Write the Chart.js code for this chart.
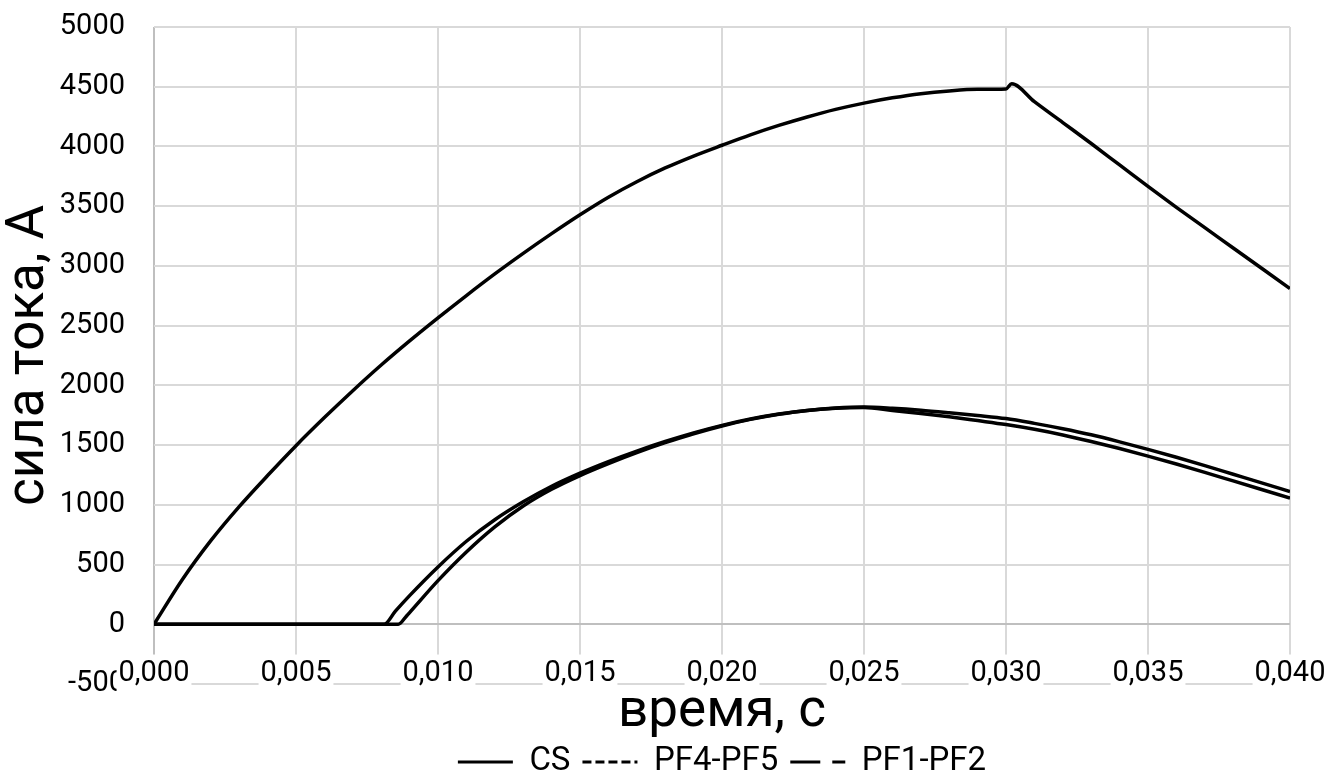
<!DOCTYPE html>
<html>
<head>
<meta charset="utf-8">
<script src="https://cdn.jsdelivr.net/npm/chart.js@4/dist/chart.umd.min.js"></script>
<style>
  body { margin: 0; background: #fff; }
</style>
</head>
<body>
<canvas id="chart" width="1330" height="778"></canvas>
<script>
// время, с / сила тока, А
const csTime = [0, 0.001, 0.002, 0.003, 0.004, 0.005, 0.006, 0.007, 0.008, 0.009, 0.010,
  0.011, 0.012, 0.013, 0.014, 0.015, 0.016, 0.017, 0.018, 0.019, 0.020,
  0.021, 0.022, 0.023, 0.024, 0.025, 0.026, 0.027, 0.028, 0.029, 0.030, 0.0302,
  0.031, 0.032, 0.033, 0.034, 0.035, 0.036, 0.037, 0.038, 0.039, 0.040];
const csCurrent = [0, 375, 700, 985, 1245, 1495, 1730, 1955, 2170, 2372, 2565,
  2752, 2933, 3105, 3270, 3428, 3575, 3705, 3820, 3920, 4010,
  4097, 4176, 4247, 4310, 4363, 4407, 4442, 4465, 4478, 4482, 4525,
  4375, 4200, 4025, 3845, 3665, 3490, 3320, 3150, 2980, 2810];

const pf45Time = [0, 0.0081, 0.0085, 0.009, 0.010, 0.011, 0.012, 0.013, 0.014, 0.015, 0.016, 0.017,
  0.018, 0.019, 0.020, 0.021, 0.022, 0.023, 0.024, 0.025, 0.026, 0.027, 0.028,
  0.029, 0.030, 0.031, 0.032, 0.033, 0.034, 0.035, 0.036, 0.037, 0.038, 0.039, 0.040];
const pf45Current = [0, 0, 110, 240, 480, 695, 875, 1025, 1155, 1265, 1362, 1450,
  1530, 1602, 1665, 1718, 1760, 1790, 1810, 1818, 1808, 1792, 1771,
  1748, 1722, 1682, 1637, 1586, 1527, 1464, 1398, 1328, 1256, 1184, 1111];

const pf12Time = [0, 0.0086, 0.0089, 0.009, 0.010, 0.011, 0.012, 0.013, 0.014, 0.015, 0.016, 0.017,
  0.018, 0.019, 0.020, 0.021, 0.022, 0.023, 0.024, 0.025, 0.026, 0.027, 0.028,
  0.029, 0.030, 0.031, 0.032, 0.033, 0.034, 0.035, 0.036, 0.037, 0.038, 0.039, 0.040];
const pf12Current = [0, 0, 72, 98, 365, 605, 815, 990, 1130, 1245, 1345, 1437,
  1520, 1595, 1660, 1715, 1758, 1790, 1808, 1814, 1790, 1765, 1737,
  1705, 1672, 1632, 1585, 1530, 1471, 1408, 1342, 1272, 1200, 1128, 1056];

const seriesNames = ['CS', 'PF4-PF5', 'PF1-PF2'];
const legendDash = [[], [9, 4], [30, 12]];

const toPoints = (ts, vs) => ts.map((t, i) => ({ x: t, y: vs[i] }));

const font = 'Roboto, "Liberation Sans", Arial, sans-serif';
const gridGray = '#d9d9d9';
const axisGray = '#bfbfbf';

const lineStyle = {
    borderColor: '#000',
    backgroundColor: '#000',
    borderWidth: 3.5,
    pointRadius: 0,
    fill: false,
    cubicInterpolationMode: 'monotone'
};

new Chart(document.getElementById('chart').getContext('2d'), {
    type: 'line',
    data: {
        datasets: [
            { label: seriesNames[0], data: toPoints(csTime, csCurrent), ...lineStyle },
            { label: seriesNames[1], data: toPoints(pf45Time, pf45Current), ...lineStyle },
            { label: seriesNames[2], data: toPoints(pf12Time, pf12Current), ...lineStyle }
        ]
    },
    options: {
        responsive: false,
        animation: false,
        layout: { padding: { top: 27, right: 40, left: 0, bottom: -10.5 } },
        plugins: {
            tooltip: { enabled: false },
            title: {
                display: true,
                position: 'bottom',
                fullSize: false,
                weight: 500,
                text: 'время, с',
                color: '#000',
                font: { family: font, size: 53, weight: 'normal', lineHeight: 1 },
                padding: { top: 2.5, bottom: -6 }
            },
            legend: {
                position: 'bottom',
                fullSize: false,
                weight: 1000,
                labels: {
                    color: '#000',
                    font: { family: font, size: 33 },
                    usePointStyle: true,
                    pointStyleWidth: 55,
                    boxHeight: 33,
                    padding: 12,
                    generateLabels: () => seriesNames.map((name, i) => ({
                        text: name,
                        datasetIndex: i,
                        pointStyle: 'line',
                        strokeStyle: '#000',
                        fillStyle: '#000',
                        lineWidth: 3,
                        lineDash: legendDash[i],
                        fontColor: '#000'
                    }))
                }
            }
        },
        scales: {
            x: {
                type: 'linear',
                position: { y: -270 },
                min: 0,
                max: 0.04,
                ticks: {
                    z: 1,
                    stepSize: 0.005,
                    color: '#000',
                    font: { family: font, size: 29 },
                    padding: 0,
                    showLabelBackdrop: true,
                    backdropColor: '#fff',
                    backdropPadding: 2,
                    callback: v => v.toFixed(3).replace('.', ',')
                },
                grid: {
                    drawTicks: false,
                    lineWidth: 2,
                    color: c => (c.tick && c.tick.value === 0 ? axisGray : gridGray)
                },
                border: { display: false }
            },
            y: {
                min: -500,
                max: 5000,
                afterFit: s => {
                    s.width = 154;
                    s.paddingTop = 0;
                    s.paddingBottom = 0;
                },
                ticks: {
                    stepSize: 500,
                    color: '#000',
                    font: { family: font, size: 29 },
                    padding: 29,
                    callback: v => String(v)
                },
                grid: {
                    drawTicks: false,
                    lineWidth: 2,
                    color: c => (c.tick && c.tick.value === 0 ? axisGray : gridGray)
                },
                border: { display: false },
                title: {
                    display: true,
                    text: 'сила тока, А',
                    color: '#000',
                    font: { family: font, size: 53, lineHeight: 1 },
                    padding: { top: 3, bottom: 0 }
                }
            }
        }
    }
});
</script>
</body>
</html>
